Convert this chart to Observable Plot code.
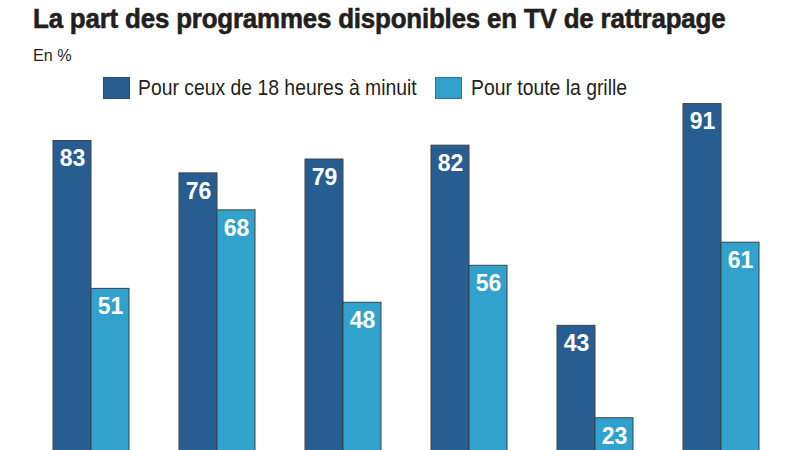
<!DOCTYPE html>
<html><head><meta charset="utf-8">
<script src="https://cdn.jsdelivr.net/npm/d3@7"></script>
<script src="https://cdn.jsdelivr.net/npm/@observablehq/plot@0.6"></script>
<style>
body{margin:0;background:#fff;width:800px;height:450px;overflow:hidden;font-family:"Liberation Sans",Arial,sans-serif;color:#231f20}
#head{position:relative;height:100px}
#title{position:absolute;left:33px;top:3px;font-weight:bold;font-size:28px;white-space:nowrap;transform:scaleX(0.925);transform-origin:0 0;letter-spacing:-0.2px;-webkit-text-stroke:0.6px #231f20}
#sub{position:absolute;left:33px;top:46px;font-size:17px;white-space:nowrap;transform:scaleX(0.95);transform-origin:0 0}
.sw{position:absolute;top:77px;width:27px;height:22px;box-sizing:border-box;border:1px solid rgba(40,40,40,0.35)}
.lt{position:absolute;top:75px;font-size:22px;white-space:nowrap;transform:scaleX(0.88);transform-origin:0 0}
#chart svg{display:block}
</style></head>
<body>
<div id="head">
  <div id="title">La part des programmes disponibles en TV de rattrapage</div>
  <div id="sub">En %</div>
  <div class="sw" id="sw0" style="left:103px"></div>
  <div class="lt" id="lt0" style="left:138px"></div>
  <div class="sw" id="sw1" style="left:435px"></div>
  <div class="lt" id="lt1" style="left:471px"></div>
</div>
<div id="chart"></div>
<script>
const groups = ["Groupe 1", "Groupe 2", "Groupe 3", "Groupe 4", "Groupe 5", "Groupe 6"];
const series = ["Pour ceux de 18 heures à minuit", "Pour toute la grille"];
const evening = [83, 76, 79, 82, 43, 91];
const allDay = [51, 68, 48, 56, 23, 61];
const colors = ["#285d91", "#30a2cb"];

series.forEach((s, i) => {
  document.getElementById("sw" + i).style.background = colors[i];
  document.getElementById("lt" + i).textContent = s;
});

const data = [];
groups.forEach((g, i) => {
  data.push({group: g, series: series[0], value: evening[i]});
  data.push({group: g, series: series[1], value: allDay[i]});
});

const pxPerUnit = 4.62;
const chart = Plot.plot({
  width: 800,
  height: 350,
  marginLeft: 52,
  marginRight: 40,
  marginTop: 0,
  marginBottom: 0,
  fx: {domain: groups, paddingInner: 0.4, paddingOuter: 0, axis: null},
  x: {domain: series, padding: 0, axis: null},
  y: {domain: [0, 100], range: [424, 424 - 100 * pxPerUnit], axis: null},
  color: {domain: series, range: colors},
  marks: [
    Plot.barY(data, {fx: "group", x: "series", y: "value", fill: "series", stroke: "#3d4045", strokeWidth: 1}),
    Plot.text(data, {fx: "group", x: "series", y: "value", text: d => String(d.value), dy: 18, fill: "white",
      fontSize: 23, fontWeight: "bold", fontFamily: "Liberation Sans, Arial, sans-serif", lineAnchor: "middle"})
  ]
});
document.getElementById("chart").appendChild(chart);
</script>
</body></html>
